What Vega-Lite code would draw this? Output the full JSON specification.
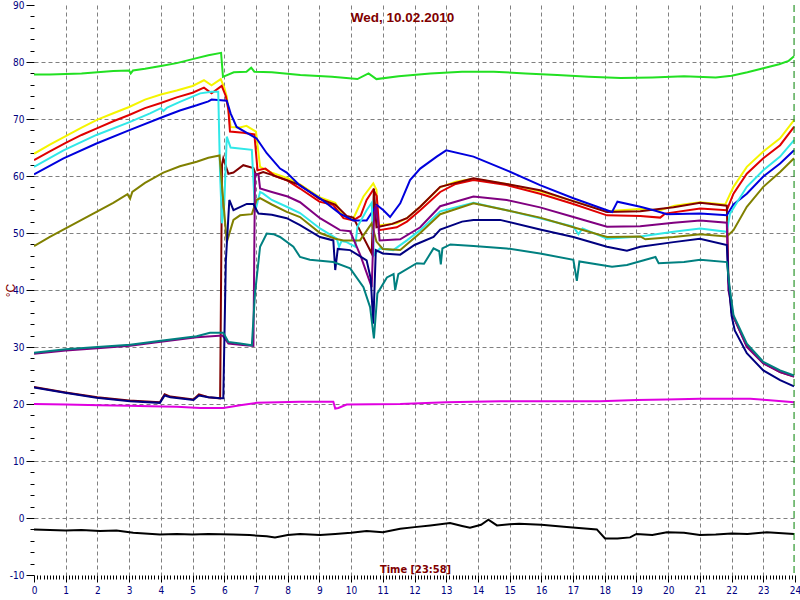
{
"$schema": "https://vega.github.io/schema/vega-lite/v6.json",
"width": 761, "height": 570,
"autosize": {"type": "none"},
"padding": {"left": 34, "top": 5, "right": 5, "bottom": 25},
"background": "white",
"title": {"text": "Wed, 10.02.2010", "color": "#800000", "fontSize": 13.5, "fontWeight": "bold", "font": "Liberation Sans", "offset": -24, "dx": -12},
"config": {"view": {"stroke": null}},
"datasets": {
"temps": [
{"s":"G","h":0,"v":77.8},{"s":"G","h":0.5,"v":77.8},{"s":"G","h":1,"v":77.9},{"s":"G","h":1.5,"v":78.0},{"s":"G","h":2,"v":78.2},{"s":"G","h":2.5,"v":78.4},{"s":"G","h":3,"v":78.5},{"s":"G","h":3.05,"v":78.0},{"s":"G","h":3.12,"v":78.5},{"s":"G","h":3.5,"v":78.8},{"s":"G","h":4,"v":79.3},{"s":"G","h":4.5,"v":79.8},{"s":"G","h":5,"v":80.5},{"s":"G","h":5.5,"v":81.2},{"s":"G","h":5.9,"v":81.6},{"s":"G","h":5.96,"v":77.4},{"s":"G","h":6.3,"v":78.2},{"s":"G","h":6.7,"v":78.3},{"s":"G","h":6.85,"v":79.0},{"s":"G","h":6.95,"v":78.3},{"s":"G","h":7.5,"v":78.2},{"s":"G","h":8.4,"v":77.7},{"s":"G","h":9.4,"v":77.4},{"s":"G","h":10.2,"v":77.0},{"s":"G","h":10.55,"v":78.0},{"s":"G","h":10.8,"v":77.0},{"s":"G","h":11.5,"v":77.5},{"s":"G","h":12.5,"v":78.0},{"s":"G","h":13.5,"v":78.3},{"s":"G","h":14.5,"v":78.3},{"s":"G","h":15.5,"v":78.0},{"s":"G","h":16.5,"v":77.7},{"s":"G","h":17.5,"v":77.4},{"s":"G","h":18.5,"v":77.2},{"s":"G","h":19.5,"v":77.3},{"s":"G","h":20.5,"v":77.5},{"s":"G","h":21.5,"v":77.3},{"s":"G","h":22,"v":77.6},{"s":"G","h":22.5,"v":78.2},{"s":"G","h":23,"v":78.9},{"s":"G","h":23.5,"v":79.6},{"s":"G","h":23.8,"v":80.2},{"s":"G","h":23.97,"v":81.0},
{"s":"Y","h":0,"v":63.9},{"s":"Y","h":0.5,"v":65.5},{"s":"Y","h":1,"v":67.0},{"s":"Y","h":1.5,"v":68.5},{"s":"Y","h":2,"v":69.9},{"s":"Y","h":2.5,"v":71.0},{"s":"Y","h":3,"v":72.1},{"s":"Y","h":3.5,"v":73.4},{"s":"Y","h":4,"v":74.3},{"s":"Y","h":4.5,"v":75.0},{"s":"Y","h":5,"v":75.8},{"s":"Y","h":5.36,"v":76.8},{"s":"Y","h":5.6,"v":75.9},{"s":"Y","h":5.89,"v":77.0},{"s":"Y","h":6.0,"v":75.5},{"s":"Y","h":6.08,"v":73.9},{"s":"Y","h":6.2,"v":68.6},{"s":"Y","h":6.5,"v":68.5},{"s":"Y","h":6.7,"v":68.8},{"s":"Y","h":7.0,"v":67.8},{"s":"Y","h":7.13,"v":61.6},{"s":"Y","h":7.5,"v":60.6},{"s":"Y","h":8,"v":59.6},{"s":"Y","h":8.4,"v":58.5},{"s":"Y","h":9,"v":56.3},{"s":"Y","h":9.5,"v":55.3},{"s":"Y","h":9.76,"v":53.0},{"s":"Y","h":10.07,"v":52.5},{"s":"Y","h":10.39,"v":56.4},{"s":"Y","h":10.7,"v":58.7},{"s":"Y","h":10.8,"v":57.6},{"s":"Y","h":10.86,"v":51.3},{"s":"Y","h":11.44,"v":51.7},{"s":"Y","h":11.76,"v":52.6},{"s":"Y","h":12.18,"v":54.6},{"s":"Y","h":12.81,"v":58.0},{"s":"Y","h":13.3,"v":59.0},{"s":"Y","h":13.86,"v":59.5},{"s":"Y","h":14.9,"v":58.6},{"s":"Y","h":15.96,"v":57.3},{"s":"Y","h":17.0,"v":55.6},{"s":"Y","h":18.07,"v":53.8},{"s":"Y","h":18.5,"v":54.0},{"s":"Y","h":19.12,"v":54.2},{"s":"Y","h":19.75,"v":54.0},{"s":"Y","h":20.2,"v":54.8},{"s":"Y","h":21.0,"v":55.4},{"s":"Y","h":21.8,"v":55.0},{"s":"Y","h":22.06,"v":58.1},{"s":"Y","h":22.48,"v":61.6},{"s":"Y","h":23.0,"v":64.3},{"s":"Y","h":23.53,"v":66.6},{"s":"Y","h":23.97,"v":69.8},
{"s":"R","h":0,"v":62.8},{"s":"R","h":0.5,"v":64.3},{"s":"R","h":1,"v":65.8},{"s":"R","h":1.5,"v":67.2},{"s":"R","h":2,"v":68.4},{"s":"R","h":2.5,"v":69.6},{"s":"R","h":3,"v":70.7},{"s":"R","h":3.5,"v":71.9},{"s":"R","h":4,"v":72.8},{"s":"R","h":4.5,"v":73.8},{"s":"R","h":5,"v":74.6},{"s":"R","h":5.36,"v":75.5},{"s":"R","h":5.6,"v":74.5},{"s":"R","h":5.92,"v":75.8},{"s":"R","h":6.05,"v":74.0},{"s":"R","h":6.13,"v":71.6},{"s":"R","h":6.18,"v":67.8},{"s":"R","h":6.6,"v":67.6},{"s":"R","h":6.95,"v":67.3},{"s":"R","h":7.05,"v":61.0},{"s":"R","h":7.3,"v":61.3},{"s":"R","h":7.6,"v":60.0},{"s":"R","h":8,"v":59.2},{"s":"R","h":8.39,"v":57.8},{"s":"R","h":9,"v":55.5},{"s":"R","h":9.44,"v":54.9},{"s":"R","h":9.76,"v":52.6},{"s":"R","h":10.07,"v":52.2},{"s":"R","h":10.3,"v":53.0},{"s":"R","h":10.49,"v":55.8},{"s":"R","h":10.7,"v":57.6},{"s":"R","h":10.81,"v":56.5},{"s":"R","h":10.89,"v":50.5},{"s":"R","h":11.44,"v":51.0},{"s":"R","h":11.76,"v":52.0},{"s":"R","h":12.18,"v":54.0},{"s":"R","h":12.81,"v":57.2},{"s":"R","h":13.3,"v":58.6},{"s":"R","h":13.86,"v":59.3},{"s":"R","h":14.91,"v":58.4},{"s":"R","h":15.96,"v":56.9},{"s":"R","h":17.01,"v":55.1},{"s":"R","h":18.07,"v":53.1},{"s":"R","h":19.12,"v":53.0},{"s":"R","h":19.75,"v":52.7},{"s":"R","h":19.9,"v":53.4},{"s":"R","h":21.01,"v":54.3},{"s":"R","h":21.85,"v":54.0},{"s":"R","h":22.06,"v":56.9},{"s":"R","h":22.48,"v":60.4},{"s":"R","h":23.0,"v":63.1},{"s":"R","h":23.53,"v":65.4},{"s":"R","h":23.97,"v":68.6},
{"s":"M","h":0,"v":23.0},{"s":"M","h":1,"v":22.0},{"s":"M","h":2,"v":21.2},{"s":"M","h":3,"v":20.6},{"s":"M","h":3.97,"v":20.3},{"s":"M","h":4.12,"v":21.7},{"s":"M","h":4.3,"v":21.3},{"s":"M","h":5.03,"v":20.8},{"s":"M","h":5.2,"v":21.7},{"s":"M","h":5.5,"v":21.2},{"s":"M","h":5.87,"v":21.0},{"s":"M","h":5.93,"v":62.0},{"s":"M","h":5.97,"v":63.1},{"s":"M","h":6.13,"v":60.4},{"s":"M","h":6.29,"v":60.6},{"s":"M","h":6.6,"v":61.9},{"s":"M","h":6.92,"v":61.4},{"s":"M","h":7.0,"v":60.2},{"s":"M","h":7.08,"v":60.4},{"s":"M","h":7.23,"v":60.7},{"s":"M","h":7.5,"v":60.2},{"s":"M","h":8,"v":59.2},{"s":"M","h":8.39,"v":58.4},{"s":"M","h":9,"v":56.0},{"s":"M","h":9.5,"v":55.0},{"s":"M","h":9.86,"v":53.0},{"s":"M","h":10.07,"v":52.7},{"s":"M","h":10.65,"v":46.4},{"s":"M","h":10.72,"v":57.8},{"s":"M","h":10.8,"v":51.0},{"s":"M","h":11.3,"v":51.6},{"s":"M","h":11.76,"v":52.6},{"s":"M","h":12.18,"v":54.6},{"s":"M","h":12.81,"v":58.1},{"s":"M","h":13.86,"v":59.6},{"s":"M","h":14.9,"v":58.6},{"s":"M","h":15.96,"v":57.5},{"s":"M","h":17.0,"v":55.6},{"s":"M","h":18.07,"v":53.7},{"s":"M","h":19.12,"v":53.8},{"s":"M","h":20.17,"v":54.5},{"s":"M","h":21.01,"v":55.3},{"s":"M","h":21.85,"v":54.8},{"s":"M","h":21.9,"v":42.0},{"s":"M","h":22.0,"v":36.0},{"s":"M","h":22.48,"v":30.2},{"s":"M","h":23.0,"v":27.2},{"s":"M","h":23.53,"v":25.6},{"s":"M","h":23.97,"v":24.8},
{"s":"B","h":0,"v":60.3},{"s":"B","h":0.93,"v":63.1},{"s":"B","h":1.97,"v":65.7},{"s":"B","h":3.03,"v":68.1},{"s":"B","h":4.08,"v":70.4},{"s":"B","h":4.6,"v":71.5},{"s":"B","h":5.13,"v":72.4},{"s":"B","h":5.5,"v":73.1},{"s":"B","h":5.6,"v":73.4},{"s":"B","h":5.9,"v":73.3},{"s":"B","h":6.08,"v":73.2},{"s":"B","h":6.2,"v":71.0},{"s":"B","h":6.39,"v":68.6},{"s":"B","h":7.02,"v":66.6},{"s":"B","h":7.34,"v":64.0},{"s":"B","h":7.76,"v":61.3},{"s":"B","h":7.97,"v":60.6},{"s":"B","h":8.39,"v":58.3},{"s":"B","h":9.02,"v":56.1},{"s":"B","h":9.65,"v":53.4},{"s":"B","h":10.07,"v":52.2},{"s":"B","h":10.49,"v":52.2},{"s":"B","h":10.81,"v":54.9},{"s":"B","h":11.02,"v":54.0},{"s":"B","h":11.23,"v":52.8},{"s":"B","h":11.55,"v":55.2},{"s":"B","h":11.86,"v":59.3},{"s":"B","h":12.18,"v":61.3},{"s":"B","h":12.7,"v":63.4},{"s":"B","h":13.0,"v":64.5},{"s":"B","h":13.86,"v":63.4},{"s":"B","h":14.91,"v":61.0},{"s":"B","h":15.96,"v":58.4},{"s":"B","h":17.01,"v":56.1},{"s":"B","h":18.07,"v":54.0},{"s":"B","h":18.23,"v":53.7},{"s":"B","h":18.4,"v":55.5},{"s":"B","h":19.12,"v":54.6},{"s":"B","h":19.6,"v":53.9},{"s":"B","h":19.96,"v":53.3},{"s":"B","h":21.01,"v":53.4},{"s":"B","h":21.85,"v":53.1},{"s":"B","h":22.06,"v":55.0},{"s":"B","h":22.48,"v":56.9},{"s":"B","h":23.0,"v":59.9},{"s":"B","h":23.53,"v":62.2},{"s":"B","h":23.97,"v":64.5},
{"s":"C","h":0,"v":61.6},{"s":"C","h":0.93,"v":64.5},{"s":"C","h":1.97,"v":67.2},{"s":"C","h":3.03,"v":69.5},{"s":"C","h":3.66,"v":71.0},{"s":"C","h":4.0,"v":71.9},{"s":"C","h":4.08,"v":71.4},{"s":"C","h":4.2,"v":72.0},{"s":"C","h":4.6,"v":73.0},{"s":"C","h":5.24,"v":74.5},{"s":"C","h":5.6,"v":74.8},{"s":"C","h":5.81,"v":74.8},{"s":"C","h":5.87,"v":60.0},{"s":"C","h":5.93,"v":51.7},{"s":"C","h":6.0,"v":55.0},{"s":"C","h":6.08,"v":66.9},{"s":"C","h":6.2,"v":65.0},{"s":"C","h":6.87,"v":64.6},{"s":"C","h":6.97,"v":53.7},{"s":"C","h":7.13,"v":57.2},{"s":"C","h":7.23,"v":56.9},{"s":"C","h":7.5,"v":55.8},{"s":"C","h":7.97,"v":54.6},{"s":"C","h":8.39,"v":53.5},{"s":"C","h":9.02,"v":50.8},{"s":"C","h":9.55,"v":49.0},{"s":"C","h":9.62,"v":47.6},{"s":"C","h":9.7,"v":48.6},{"s":"C","h":9.86,"v":48.4},{"s":"C","h":10.13,"v":47.6},{"s":"C","h":10.2,"v":51.1},{"s":"C","h":10.49,"v":54.0},{"s":"C","h":10.65,"v":55.3},{"s":"C","h":10.72,"v":46.1},{"s":"C","h":10.91,"v":47.3},{"s":"C","h":11.33,"v":47.0},{"s":"C","h":11.76,"v":48.7},{"s":"C","h":12.18,"v":50.5},{"s":"C","h":12.81,"v":53.8},{"s":"C","h":13.86,"v":55.3},{"s":"C","h":14.91,"v":54.0},{"s":"C","h":15.96,"v":52.6},{"s":"C","h":17.01,"v":51.1},{"s":"C","h":17.17,"v":49.8},{"s":"C","h":17.3,"v":50.8},{"s":"C","h":18.07,"v":49.0},{"s":"C","h":19.12,"v":49.4},{"s":"C","h":20.17,"v":50.2},{"s":"C","h":21.01,"v":50.8},{"s":"C","h":21.85,"v":50.2},{"s":"C","h":21.95,"v":53.4},{"s":"C","h":22.48,"v":58.1},{"s":"C","h":23.0,"v":61.0},{"s":"C","h":23.53,"v":63.4},{"s":"C","h":23.97,"v":66.3},
{"s":"O","h":0,"v":47.7},{"s":"O","h":0.5,"v":49.3},{"s":"O","h":1,"v":50.8},{"s":"O","h":1.5,"v":52.3},{"s":"O","h":2,"v":53.8},{"s":"O","h":2.5,"v":55.3},{"s":"O","h":2.95,"v":56.8},{"s":"O","h":3.03,"v":56.0},{"s":"O","h":3.1,"v":57.2},{"s":"O","h":3.5,"v":58.8},{"s":"O","h":4.08,"v":60.6},{"s":"O","h":4.6,"v":61.7},{"s":"O","h":5.13,"v":62.5},{"s":"O","h":5.5,"v":63.2},{"s":"O","h":5.85,"v":63.6},{"s":"O","h":6.08,"v":48.4},{"s":"O","h":6.29,"v":52.3},{"s":"O","h":6.5,"v":53.1},{"s":"O","h":6.87,"v":53.3},{"s":"O","h":7.02,"v":55.8},{"s":"O","h":7.13,"v":56.1},{"s":"O","h":7.5,"v":55.0},{"s":"O","h":7.97,"v":53.7},{"s":"O","h":8.39,"v":52.8},{"s":"O","h":9.02,"v":50.0},{"s":"O","h":9.5,"v":49.0},{"s":"O","h":9.76,"v":48.7},{"s":"O","h":10.28,"v":48.7},{"s":"O","h":10.65,"v":51.7},{"s":"O","h":10.8,"v":48.5},{"s":"O","h":11.0,"v":47.2},{"s":"O","h":11.55,"v":47.0},{"s":"O","h":12.18,"v":50.0},{"s":"O","h":12.81,"v":53.3},{"s":"O","h":13.86,"v":55.2},{"s":"O","h":14.91,"v":54.0},{"s":"O","h":15.96,"v":52.7},{"s":"O","h":17.01,"v":51.0},{"s":"O","h":18.07,"v":49.3},{"s":"O","h":19.12,"v":49.4},{"s":"O","h":19.28,"v":48.9},{"s":"O","h":20.17,"v":49.3},{"s":"O","h":21.01,"v":49.8},{"s":"O","h":21.85,"v":49.4},{"s":"O","h":22.06,"v":50.5},{"s":"O","h":22.48,"v":54.6},{"s":"O","h":23.0,"v":58.1},{"s":"O","h":23.53,"v":60.7},{"s":"O","h":23.97,"v":63.1},
{"s":"P","h":0,"v":28.8},{"s":"P","h":1,"v":29.4},{"s":"P","h":2,"v":29.8},{"s":"P","h":3.03,"v":30.2},{"s":"P","h":4,"v":30.9},{"s":"P","h":5.13,"v":31.7},{"s":"P","h":5.95,"v":32.0},{"s":"P","h":6.13,"v":30.6},{"s":"P","h":6.5,"v":30.4},{"s":"P","h":6.92,"v":30.2},{"s":"P","h":6.97,"v":60.4},{"s":"P","h":7.08,"v":60.2},{"s":"P","h":7.13,"v":57.8},{"s":"P","h":7.5,"v":57.2},{"s":"P","h":8,"v":56.4},{"s":"P","h":8.39,"v":55.4},{"s":"P","h":9.02,"v":52.6},{"s":"P","h":9.65,"v":50.5},{"s":"P","h":9.97,"v":50.3},{"s":"P","h":10.3,"v":46.0},{"s":"P","h":10.65,"v":40.5},{"s":"P","h":10.72,"v":52.0},{"s":"P","h":10.78,"v":54.9},{"s":"P","h":10.85,"v":52.0},{"s":"P","h":10.9,"v":48.7},{"s":"P","h":11.55,"v":48.9},{"s":"P","h":12.18,"v":51.0},{"s":"P","h":12.81,"v":54.7},{"s":"P","h":13.86,"v":56.4},{"s":"P","h":14.91,"v":55.8},{"s":"P","h":15.96,"v":54.5},{"s":"P","h":17.01,"v":52.8},{"s":"P","h":18.07,"v":51.1},{"s":"P","h":19.12,"v":51.2},{"s":"P","h":20.17,"v":51.8},{"s":"P","h":21.01,"v":52.2},{"s":"P","h":21.85,"v":51.8},{"s":"P","h":21.9,"v":40.0},{"s":"P","h":22.06,"v":35.3},{"s":"P","h":22.48,"v":30.0},{"s":"P","h":23.0,"v":27.1},{"s":"P","h":23.53,"v":25.6},{"s":"P","h":23.97,"v":24.8},
{"s":"N","h":0,"v":22.9},{"s":"N","h":0.93,"v":22.0},{"s":"N","h":1.97,"v":21.1},{"s":"N","h":3.03,"v":20.5},{"s":"N","h":3.97,"v":20.2},{"s":"N","h":4.12,"v":21.5},{"s":"N","h":4.3,"v":21.2},{"s":"N","h":5.03,"v":20.7},{"s":"N","h":5.2,"v":21.5},{"s":"N","h":5.5,"v":21.2},{"s":"N","h":5.87,"v":21.0},{"s":"N","h":5.97,"v":21.0},{"s":"N","h":6.05,"v":45.0},{"s":"N","h":6.16,"v":55.8},{"s":"N","h":6.29,"v":54.0},{"s":"N","h":6.71,"v":55.1},{"s":"N","h":6.92,"v":55.1},{"s":"N","h":7.08,"v":53.4},{"s":"N","h":7.5,"v":53.2},{"s":"N","h":7.97,"v":52.6},{"s":"N","h":8.39,"v":51.4},{"s":"N","h":9.02,"v":49.3},{"s":"N","h":9.44,"v":48.7},{"s":"N","h":9.5,"v":43.5},{"s":"N","h":9.58,"v":47.2},{"s":"N","h":9.97,"v":47.0},{"s":"N","h":10.49,"v":45.2},{"s":"N","h":10.62,"v":42.0},{"s":"N","h":10.7,"v":34.1},{"s":"N","h":10.78,"v":47.0},{"s":"N","h":11.0,"v":46.4},{"s":"N","h":11.55,"v":46.2},{"s":"N","h":12.0,"v":47.9},{"s":"N","h":12.6,"v":49.3},{"s":"N","h":12.81,"v":50.6},{"s":"N","h":13.5,"v":52.0},{"s":"N","h":13.86,"v":52.3},{"s":"N","h":14.7,"v":52.3},{"s":"N","h":15.96,"v":50.6},{"s":"N","h":17.01,"v":49.3},{"s":"N","h":18.07,"v":47.6},{"s":"N","h":18.7,"v":46.9},{"s":"N","h":19.12,"v":47.6},{"s":"N","h":20.17,"v":48.4},{"s":"N","h":21.0,"v":49.0},{"s":"N","h":21.85,"v":47.9},{"s":"N","h":21.9,"v":42.0},{"s":"N","h":22.0,"v":35.5},{"s":"N","h":22.1,"v":32.9},{"s":"N","h":22.48,"v":28.9},{"s":"N","h":23.0,"v":25.9},{"s":"N","h":23.53,"v":24.2},{"s":"N","h":23.97,"v":23.1},
{"s":"T","h":0,"v":29.0},{"s":"T","h":1,"v":29.6},{"s":"T","h":2,"v":30.0},{"s":"T","h":3.03,"v":30.4},{"s":"T","h":4,"v":31.1},{"s":"T","h":5.13,"v":31.9},{"s":"T","h":5.55,"v":32.5},{"s":"T","h":5.97,"v":32.5},{"s":"T","h":6.13,"v":30.9},{"s":"T","h":6.5,"v":30.6},{"s":"T","h":6.87,"v":30.3},{"s":"T","h":6.97,"v":39.4},{"s":"T","h":7.13,"v":47.6},{"s":"T","h":7.34,"v":49.9},{"s":"T","h":7.55,"v":49.8},{"s":"T","h":7.76,"v":49.3},{"s":"T","h":8.18,"v":47.6},{"s":"T","h":8.39,"v":45.8},{"s":"T","h":8.7,"v":45.3},{"s":"T","h":9.44,"v":44.9},{"s":"T","h":9.97,"v":43.8},{"s":"T","h":10.39,"v":40.5},{"s":"T","h":10.6,"v":37.0},{"s":"T","h":10.72,"v":31.5},{"s":"T","h":10.83,"v":39.4},{"s":"T","h":11.13,"v":42.2},{"s":"T","h":11.34,"v":42.8},{"s":"T","h":11.39,"v":40.0},{"s":"T","h":11.49,"v":42.8},{"s":"T","h":12.07,"v":44.7},{"s":"T","h":12.3,"v":44.6},{"s":"T","h":12.6,"v":47.3},{"s":"T","h":12.78,"v":46.8},{"s":"T","h":12.83,"v":44.5},{"s":"T","h":12.88,"v":47.3},{"s":"T","h":13.13,"v":48.0},{"s":"T","h":13.86,"v":47.7},{"s":"T","h":14.91,"v":47.3},{"s":"T","h":15.96,"v":46.4},{"s":"T","h":17.01,"v":45.3},{"s":"T","h":17.12,"v":41.6},{"s":"T","h":17.2,"v":45.0},{"s":"T","h":18.23,"v":44.1},{"s":"T","h":18.7,"v":44.4},{"s":"T","h":19.6,"v":45.8},{"s":"T","h":19.7,"v":44.7},{"s":"T","h":20.5,"v":44.9},{"s":"T","h":21.01,"v":45.3},{"s":"T","h":21.85,"v":44.9},{"s":"T","h":21.95,"v":40.0},{"s":"T","h":22.06,"v":35.6},{"s":"T","h":22.48,"v":30.6},{"s":"T","h":23.0,"v":27.4},{"s":"T","h":23.53,"v":25.9},{"s":"T","h":23.97,"v":25.0},
{"s":"Mg","h":0,"v":20.0},{"s":"Mg","h":1,"v":19.9},{"s":"Mg","h":2.08,"v":19.8},{"s":"Mg","h":3,"v":19.7},{"s":"Mg","h":3.66,"v":19.6},{"s":"Mg","h":4.5,"v":19.5},{"s":"Mg","h":5.24,"v":19.3},{"s":"Mg","h":5.97,"v":19.3},{"s":"Mg","h":6.5,"v":19.8},{"s":"Mg","h":7.02,"v":20.2},{"s":"Mg","h":8.39,"v":20.4},{"s":"Mg","h":9.44,"v":20.4},{"s":"Mg","h":9.5,"v":19.2},{"s":"Mg","h":9.6,"v":19.3},{"s":"Mg","h":9.86,"v":19.9},{"s":"Mg","h":11.55,"v":20.0},{"s":"Mg","h":13,"v":20.3},{"s":"Mg","h":14.7,"v":20.5},{"s":"Mg","h":16,"v":20.5},{"s":"Mg","h":17.86,"v":20.5},{"s":"Mg","h":19,"v":20.7},{"s":"Mg","h":19.96,"v":20.8},{"s":"Mg","h":21,"v":20.9},{"s":"Mg","h":22.59,"v":20.9},{"s":"Mg","h":23.11,"v":20.7},{"s":"Mg","h":23.97,"v":20.3},
{"s":"K","h":0,"v":-2.0},{"s":"K","h":0.5,"v":-2.1},{"s":"K","h":1,"v":-2.2},{"s":"K","h":1.5,"v":-2.1},{"s":"K","h":2.08,"v":-2.3},{"s":"K","h":2.6,"v":-2.2},{"s":"K","h":3.13,"v":-2.6},{"s":"K","h":3.97,"v":-2.9},{"s":"K","h":4.5,"v":-2.8},{"s":"K","h":5,"v":-2.9},{"s":"K","h":5.5,"v":-2.8},{"s":"K","h":6.28,"v":-2.9},{"s":"K","h":6.8,"v":-3.0},{"s":"K","h":7.34,"v":-3.2},{"s":"K","h":7.6,"v":-3.4},{"s":"K","h":8,"v":-3.0},{"s":"K","h":8.39,"v":-2.8},{"s":"K","h":9.02,"v":-3.0},{"s":"K","h":9.5,"v":-2.8},{"s":"K","h":10,"v":-2.6},{"s":"K","h":10.49,"v":-2.3},{"s":"K","h":11,"v":-2.5},{"s":"K","h":11.55,"v":-1.9},{"s":"K","h":12,"v":-1.6},{"s":"K","h":12.5,"v":-1.3},{"s":"K","h":13.12,"v":-0.9},{"s":"K","h":13.5,"v":-1.4},{"s":"K","h":13.75,"v":-1.7},{"s":"K","h":14.1,"v":-1.2},{"s":"K","h":14.33,"v":-0.3},{"s":"K","h":14.6,"v":-1.3},{"s":"K","h":15,"v":-1.1},{"s":"K","h":15.3,"v":-1.0},{"s":"K","h":16,"v":-1.2},{"s":"K","h":16.8,"v":-1.6},{"s":"K","h":17.75,"v":-2.0},{"s":"K","h":18.01,"v":-3.6},{"s":"K","h":18.4,"v":-3.6},{"s":"K","h":18.8,"v":-3.4},{"s":"K","h":19.0,"v":-2.8},{"s":"K","h":19.5,"v":-3.0},{"s":"K","h":19.96,"v":-2.5},{"s":"K","h":20.5,"v":-2.6},{"s":"K","h":21.0,"v":-3.0},{"s":"K","h":21.5,"v":-2.9},{"s":"K","h":22,"v":-2.7},{"s":"K","h":22.5,"v":-2.8},{"s":"K","h":23.11,"v":-2.5},{"s":"K","h":23.97,"v":-2.8}
],
"now": [{"h": 23.97}]
},
"layer": [
{
"data": {"name": "temps"},
"mark": {"type": "line", "strokeWidth": 2, "clip": true, "interpolate": "linear"},
"encoding": {
"x": {"field": "h", "type": "quantitative",
 "scale": {"domain": [0, 24], "nice": false, "zero": false},
 "axis": {"tickCount": 240, "labelExpr": "abs(datum.value - round(datum.value)) < 0.01 ? toString(round(datum.value)) : ''",
  "labelOverlap": false, "labelFlush": false, "labelColor": "#000080", "labelFontSize": 10, "labelFont": "Liberation Sans Narrow, DejaVu Sans Condensed, Liberation Sans", "labelPadding": 3,
  "domain": false, "tickColor": "black", "tickWidth": 1,
  "tickSize": {"condition": {"test": "abs(datum.value - round(datum.value)) < 0.01", "value": 7}, "value": 4},
  "grid": true, "gridColor": "#808080", "gridDash": [4, 3], "gridWidth": 1,
  "gridOpacity": {"condition": {"test": "abs(datum.value - round(datum.value)) < 0.01 && datum.value > 0.5 && datum.value < 23.5", "value": 1}, "value": 0},
  "title": "Time [23:58]", "titleColor": "#800000", "titleFontSize": 11, "titleFontWeight": "bold", "titleFont": "Liberation Sans Narrow, DejaVu Sans Condensed, Liberation Sans",
  "titleY": -6, "titleBaseline": "middle", "titleX": 381}},
"y": {"field": "v", "type": "quantitative",
 "scale": {"domain": [-10, 90], "nice": false, "zero": false},
 "axis": {"tickCount": 50, "labelExpr": "datum.value % 10 === 0 ? toString(datum.value) : ''",
  "labelOverlap": false, "labelFlush": false, "labelColor": "#000080", "labelFontSize": 10, "labelFont": "Liberation Sans Narrow, DejaVu Sans Condensed, Liberation Sans", "labelPadding": 2,
  "domain": false, "tickColor": "black", "tickWidth": 1,
  "tickSize": {"condition": {"test": "datum.value % 10 === 0", "value": 8}, "value": 4},
  "grid": true, "gridColor": "#808080", "gridDash": [4, 3], "gridWidth": 1,
  "gridOpacity": {"condition": {"test": "datum.value % 10 === 0 && datum.value > -10 && datum.value < 90", "value": 1}, "value": 0},
  "title": "°C", "titleColor": "#800000", "titleFontSize": 12, "titleFontWeight": "normal", "titleFont": "Liberation Sans",
  "titleX": -24, "titleY": 285, "titleAlign": "center", "titleBaseline": "middle"}},
"color": {"field": "s", "type": "nominal", "legend": null,
 "scale": {"domain": ["G","Y","R","M","B","C","O","P","N","T","Mg","K"],
  "range": ["#22e022","#f5f500","#e00000","#800000","#0000dd","#30e8e8","#808000","#800080","#000080","#008080","#e000e0","#000000"]}}
}
},
{
"data": {"name": "now"},
"mark": {"type": "rule", "color": "#008000", "strokeDash": [7, 4], "strokeWidth": 1},
"encoding": {"x": {"field": "h", "type": "quantitative"}}
}
]
}
